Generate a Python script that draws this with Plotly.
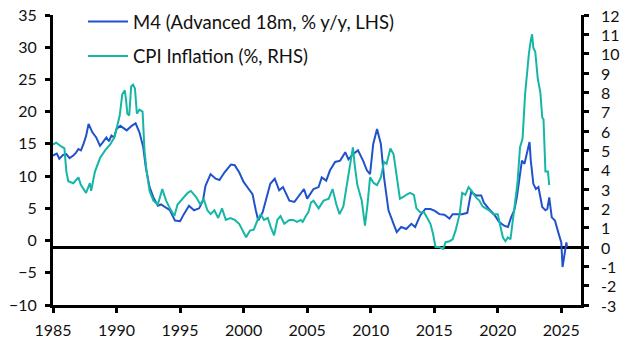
import plotly.graph_objects as go

# M4 (advanced 18m, % y/y) - LHS
m4_year = [1985.0, 1985.3, 1985.5, 1985.8, 1986.05, 1986.3, 1986.6, 1986.8, 1987.0, 1987.2, 1987.4, 1987.6,
           1987.8, 1988.1, 1988.4, 1988.7, 1988.9, 1989.2, 1989.4, 1989.6, 1989.8, 1990.0, 1990.3, 1990.5,
           1990.8, 1991.2, 1991.5, 1991.8, 1992.1, 1992.3, 1992.6, 1992.9, 1993.25, 1993.5, 1993.8, 1994.2,
           1994.6, 1995.0, 1995.3, 1995.7, 1996.1, 1996.5, 1996.8, 1997.0, 1997.4, 1997.8, 1998.1, 1998.5,
           1999.0, 1999.3, 1999.65, 2000.0, 2000.4, 2000.7, 2000.96, 2001.15, 2001.5, 2001.75, 2002.1, 2002.45,
           2002.8, 2003.1, 2003.6, 2004.0, 2004.4, 2004.75, 2005.0, 2005.3, 2005.5, 2005.9, 2006.15, 2006.5,
           2006.8, 2007.2, 2007.6, 2008.0, 2008.25, 2008.6, 2009.0, 2009.4, 2009.7, 2009.95, 2010.2, 2010.5,
           2010.8, 2011.05, 2011.4, 2011.8, 2012.05, 2012.4, 2012.8, 2013.2, 2013.5, 2013.9, 2014.3, 2014.7,
           2015.05, 2015.4, 2015.8, 2016.2, 2016.45, 2016.8, 2017.2, 2017.6, 2017.9, 2018.3, 2018.7, 2018.9,
           2019.3, 2019.7, 2020.1, 2020.5, 2020.8, 2021.05, 2021.3, 2021.5, 2021.7, 2021.9, 2022.1, 2022.3,
           2022.5, 2022.6, 2022.8, 2023.0, 2023.2, 2023.5, 2023.75, 2023.9, 2024.05, 2024.25, 2024.5, 2024.8,
           2025.0, 2025.1, 2025.25, 2025.4, 2025.45]
m4_val = [13.2, 13.5, 12.7, 13.3, 13.4, 12.8, 13.2, 13.6, 14.2, 14.0, 15.0, 16.2,
          18.1, 16.8, 16.0, 14.7, 15.2, 16.0, 15.4, 16.3, 16.0, 17.3, 17.8, 17.5,
          17.1, 17.8, 18.2, 16.8, 14.5, 11.4, 8.3, 6.7, 5.4, 5.6, 5.2, 4.7,
          3.1, 3.0, 4.1, 5.4, 4.7, 5.0, 6.2, 8.5, 10.3, 9.6, 9.4, 10.6,
          11.8, 11.7, 10.6, 9.1, 8.0, 7.2, 4.7, 3.1, 4.4, 6.2, 8.8, 9.6,
          7.8, 8.3, 6.2, 6.0, 7.0, 8.0, 6.5, 7.5, 8.0, 8.3, 9.8, 9.3,
          10.9, 12.2, 12.4, 13.7, 12.6, 13.4, 14.0, 12.4, 10.9, 10.3, 15.0, 17.3,
          15.0, 9.8, 4.7, 2.6, 1.3, 2.1, 1.8, 2.6, 2.1, 3.9, 4.9, 4.9,
          4.6, 4.1, 4.0, 3.4, 4.1, 4.1, 4.1, 4.3, 7.5, 7.0, 7.0, 5.9,
          4.9, 4.1, 2.9, 2.3, 2.1, 3.6, 4.7, 6.7, 9.8, 12.4, 11.9, 13.7,
          15.3, 12.4, 8.8, 8.0, 8.3, 5.2, 4.7, 4.9, 6.7, 3.6, 3.1, 1.0,
          -0.3, -4.1, -2.0, -0.3, -1.0]

# CPI inflation (%) - RHS
cpi_year = [1985.0, 1985.25, 1985.65, 1985.9, 1986.05, 1986.2, 1986.6, 1987.0, 1987.2, 1987.6, 1987.9, 1988.0,
            1988.3, 1988.7, 1989.1, 1989.5, 1989.85, 1990.1, 1990.25, 1990.45, 1990.65, 1990.75, 1990.85, 1991.0,
            1991.15, 1991.3, 1991.45, 1991.6, 1991.8, 1992.05, 1992.2, 1992.35, 1992.6, 1992.9, 1993.25, 1993.6,
            1993.9, 1994.2, 1994.55, 1994.8, 1995.2, 1995.6, 1995.85, 1996.25, 1996.6, 1996.85, 1997.15, 1997.4,
            1997.7, 1998.0, 1998.3, 1998.6, 1998.95, 1999.3, 1999.65, 1999.95, 2000.2, 2000.5, 2000.8, 2001.1,
            2001.35, 2001.6, 2001.9, 2002.15, 2002.4, 2002.65, 2002.9, 2003.2, 2003.6, 2003.9, 2004.2, 2004.5,
            2004.65, 2004.9, 2005.1, 2005.3, 2005.5, 2005.9, 2006.3, 2006.7, 2007.0, 2007.3, 2007.55, 2007.85,
            2008.1, 2008.4, 2008.6, 2008.75, 2008.95, 2009.3, 2009.55, 2009.75, 2009.95, 2010.25, 2010.5, 2010.8,
            2011.05, 2011.25, 2011.55, 2011.8, 2012.05, 2012.3, 2012.6, 2012.8, 2013.1, 2013.4, 2013.6, 2013.9,
            2014.2, 2014.45, 2014.7, 2014.9, 2015.1, 2015.4, 2015.7, 2015.9, 2016.2, 2016.45, 2016.7, 2017.0,
            2017.2, 2017.45, 2017.7, 2017.95, 2018.3, 2018.55, 2018.8, 2019.05, 2019.3, 2019.65, 2020.0, 2020.2,
            2020.4, 2020.6, 2020.8, 2021.0, 2021.2, 2021.35, 2021.55, 2021.75, 2021.95, 2022.15, 2022.3, 2022.45,
            2022.6, 2022.7, 2022.8, 2022.95, 2023.15, 2023.35, 2023.5, 2023.6, 2023.75, 2023.95, 2024.05]
cpi_val = [5.3, 5.4, 5.2, 5.1, 3.9, 3.4, 3.3, 3.6, 3.2, 2.8, 3.3, 2.9,
           3.9, 4.6, 5.0, 5.3, 5.7, 6.3, 6.8, 7.9, 8.1, 7.6, 6.9, 6.8,
           8.3, 8.4, 8.2, 6.9, 7.1, 7.0, 5.0, 4.0, 2.9, 2.4, 2.2, 3.0,
           2.4, 2.0, 1.6, 2.2, 2.5, 2.8, 2.9, 2.6, 2.2, 2.5, 1.9, 1.7,
           1.9, 1.5, 2.0, 1.4, 1.5, 1.4, 1.2, 0.85, 0.5, 0.85, 0.9, 1.4,
           1.7, 1.4, 1.5, 1.0, 0.6, 1.4, 1.6, 1.2, 1.4, 1.4, 1.3, 1.4,
           1.3, 1.6, 1.8, 2.3, 2.4, 2.0, 2.4, 2.5, 3.0, 2.2, 1.7, 2.1,
           3.1, 4.4, 5.15, 4.2, 3.2, 2.4, 1.1, 2.2, 3.6, 3.3, 3.2, 3.6,
           4.4, 4.3, 5.1, 4.8, 3.5, 2.5, 2.6, 2.7, 2.8, 2.7, 2.0, 1.8,
           1.8, 1.5, 1.2, 0.7, 0.0, 0.0, -0.1, 0.25, 0.3, 0.4, 0.9, 1.7,
           2.8, 2.7, 3.1, 2.9, 2.55, 2.4, 2.1, 2.0, 1.9, 1.7, 1.7, 1.1,
           0.5, 0.3, 0.5, 0.4, 1.4, 2.4, 3.3, 5.15, 5.6, 7.9, 9.1, 10.0,
           10.7, 11.0, 10.3, 10.1, 8.7, 8.0, 6.7, 6.6, 3.9, 3.9, 3.2]

x_ticks = [1985, 1990, 1995, 2000, 2005, 2010, 2015, 2020, 2025]
y2_ticks = list(range(-3, 13))

BLUE = "#2152CC"
TEAL = "#16B6A6"
FONT = "Lato, Carlito, 'Open Sans', sans-serif"

fig = go.Figure()
fig.add_trace(go.Scatter(x=m4_year, y=m4_val, mode="lines", name="M4 (Advanced 18m, % y/y, LHS)",
                         line=dict(color=BLUE, width=2), yaxis="y", legendgroup="a"))
fig.add_trace(go.Scatter(x=cpi_year, y=cpi_val, mode="lines", name="CPI Inflation (%, RHS)",
                         line=dict(color=TEAL, width=2), yaxis="y2", legendgroup="b"))

axis_common = dict(showgrid=False, showline=True, linecolor="black", linewidth=3,
                   ticks="outside", ticklen=5, tickwidth=3, tickcolor="black", automargin=False,
                   tickfont=dict(family=FONT, size=16, color="#111"))

# right-axis tick labels, set a little further from the axis as in the reference
for v in y2_ticks:
    fig.add_annotation(x=1, xref="paper", y=v, yref="y2", text=str(v), showarrow=False,
                       xanchor="left", yanchor="middle", xshift=18,
                       font=dict(family=FONT, size=16, color="#111"))

fig.update_layout(
    width=629, height=354,
    margin=dict(l=53, r=48, t=15, b=49, autoexpand=False),
    paper_bgcolor="white", plot_bgcolor="white",
    font=dict(family=FONT, size=16, color="#111"),
    showlegend=True,
    legend=dict(x=83 / 629, y=1 - 3 / 354, xref="container", yref="container",
                xanchor="left", yanchor="top", bgcolor="rgba(0,0,0,0)",
                font=dict(family=FONT, size=18.5, color="#111"), tracegroupgap=7.5, itemwidth=40),
    xaxis=dict(range=[1985, 2026.55], tickvals=x_ticks, ticktext=[str(t) for t in x_ticks],
               zeroline=False, ticklabelstandoff=4, **axis_common),
    yaxis=dict(range=[-10, 35], dtick=5, zeroline=False, ticklabelstandoff=5, **axis_common),
    yaxis2=dict(range=[-3, 12], tickvals=y2_ticks, showticklabels=False, overlaying="y", side="right",
                zeroline=True, zerolinecolor="black", zerolinewidth=3, **axis_common),
)

fig.write_html("out.html")
